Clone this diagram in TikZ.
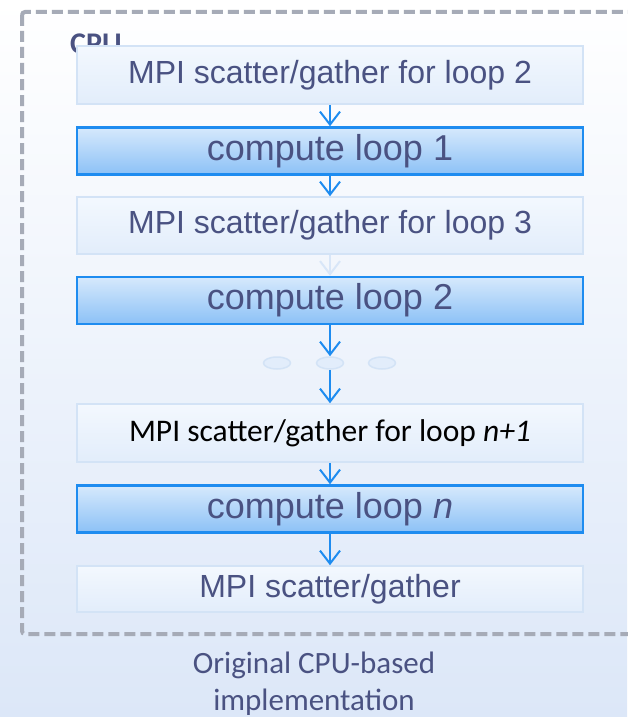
\documentclass[tikz,border=0pt]{standalone}
\usepackage{fontspec}
\setmainfont{Liberation Sans}
\newfontfamily\cali{Carlito}
\usepackage{xcolor}
\usepackage{tikz}
\usetikzlibrary{arrows.meta}
\usetikzlibrary{shapes.geometric}
\definecolor{textcolor}{HTML}{4A5282}
\definecolor{linecolor}{HTML}{1E8CF0}
\definecolor{dashcolor}{HTML}{A6ABB7}
\definecolor{bgblue}{HTML}{DCE7F8}
\definecolor{mpitop}{HTML}{F3F8FE}
\definecolor{mpibot}{HTML}{E2EDFB}
\definecolor{mpiline}{HTML}{D3E3F6}
\definecolor{comptop}{HTML}{D6E9FC}
\definecolor{compbot}{HTML}{8CC1F6}
\definecolor{fadeline}{HTML}{D8E6F8}
\tikzset{
  mpibox/.style={draw=mpiline, line width=1.5pt, top color=mpitop, bottom color=mpibot,
    minimum width=506pt, inner sep=0pt, text=textcolor, font=\fontsize{32}{38}\selectfont},
  compbox/.style={draw=linecolor, line width=2.5pt, top color=comptop, bottom color=compbot,
    minimum width=506pt, minimum height=47pt, inner sep=0pt, text=textcolor, font=\fontsize{36}{42}\selectfont},
  flow/.style={linecolor, line width=2pt, -{Straight Barb[length=13pt,width=20pt,line width=2pt]}},
  dots/.style={ellipse, draw=mpiline, line width=1.5pt, fill=mpibot, minimum width=27pt, minimum height=12pt, inner sep=0pt}
}

\begin{document}
\begin{tikzpicture}[x=1pt,y=-1pt]
   \useasboundingbox (0,0) rectangle (627,717);
   \fill [top color=white, middle color=white!60!bgblue, bottom color=bgblue] (0,0) rectangle (627,717);
   %% outer dashed frame, right side runs off the page
   \draw [dashcolor, line width=4pt, dash pattern=on 11pt off 5pt, rounded corners=3pt] (22,12) rectangle (680,634);
   \node [anchor=base west, inner sep=0pt, text=textcolor, font=\cali\bfseries\fontsize{30}{34}\selectfont] (cpu) at (70,54) {CPU};

   \node [mpibox, minimum height=58pt] (mpi2) at (330,75) {MPI scatter/gather for loop 2};
   \node [compbox] (comp1) at (330,151) {compute loop 1};
   \node [mpibox, minimum height=57pt] (mpi3) at (330,225.5) {MPI scatter/gather for loop 3};
   \node [compbox] (comp2) at (330,300.5) {compute loop 2};

   \node [dots] (dotl) at (277,363) {};
   \node [dots] (dotm) at (330,363) {};
   \node [dots] (dotr) at (382,363) {};

   \node [mpibox, minimum height=58pt, text=black, font=\cali\fontsize{31.5}{38}\selectfont] (mpin) at (330,433) {MPI scatter/gather for loop \textit{n+1}};
   \node [compbox] (compn) at (330,509) {compute loop \textit{n}};
   \node [mpibox, minimum height=46pt] (mpilast) at (330,589) {MPI scatter/gather};

   \draw [flow] (mpi2) -- (comp1);
   \draw [flow] (comp1) -- (mpi3);
   \draw [flow, fadeline] (mpi3) -- (comp2);
   \draw [flow] (comp2) -- (dotm);
   \draw [flow] (dotm) -- (mpin);
   \draw [flow] (mpin) -- (compn);
   \draw [flow] (compn) -- (mpilast);

   \node [anchor=north, inner sep=0pt, align=center, text=textcolor, font=\cali\fontsize{31}{37}\selectfont] (caption) at (314,652) {Original CPU-based\\implementation};
\end{tikzpicture}
\end{document}
